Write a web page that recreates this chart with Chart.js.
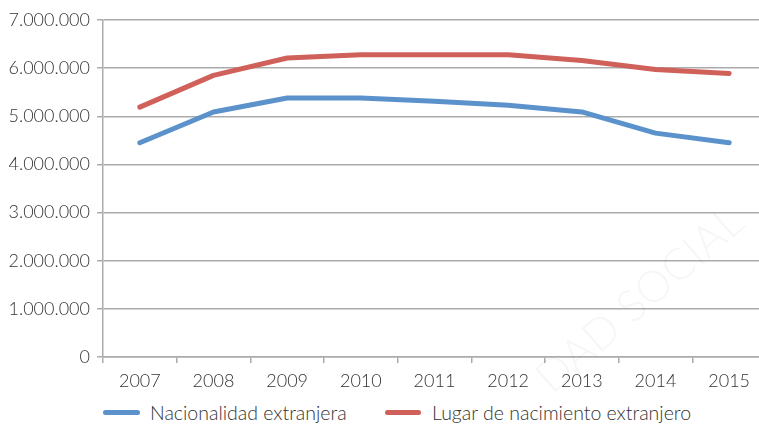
<!DOCTYPE html>
<html>
<head>
<meta charset="utf-8">
<script src="https://cdn.jsdelivr.net/npm/chart.js@4/dist/chart.umd.min.js"></script>
<style>
  html, body { margin: 0; padding: 0; background: #fff; overflow: hidden; width: 759px; height: 427px; }
  #wrap { position: absolute; left: 0; top: 0; width: 772px; height: 400px; }
  .leg { position: absolute; top: 401px; font-family: Lato, "Open Sans", sans-serif; font-weight: 300; font-size: 19.5px; color: #333; white-space: nowrap; }
  .sw { position: absolute; top: 410px; height: 5px; border-radius: 3px; }
</style>
</head>
<body>
<div id="wrap"><canvas id="c" width="772" height="400"></canvas></div>
<div class="sw" style="left:103px;width:37px;background:#5B92CB"></div>
<div class="leg" style="left:150px">Nacionalidad extranjera</div>
<div class="sw" style="left:385px;width:36px;background:#CF605A"></div>
<div class="leg" style="left:432px">Lugar de nacimiento extranjero</div>
<script>
const categories = ['2007','2008','2009','2010','2011','2012','2013','2014','2015'];
const nacionalidadExtranjera = [4450000, 5090000, 5380000, 5380000, 5310000, 5230000, 5090000, 4650000, 4450000];
const lugarNacimientoExtranjero = [5190000, 5850000, 6210000, 6280000, 6280000, 6280000, 6160000, 5970000, 5890000];
const yTickLabels = ['0','1.000.000','2.000.000','3.000.000','4.000.000','5.000.000','6.000.000','7.000.000'];
const seriesNames = ['Nacionalidad extranjera', 'Lugar de nacimiento extranjero'];

const watermark = {
  id: 'watermark',
  beforeDatasetsDraw(chart) {
    const ctx = chart.ctx;
    ctx.save();
    ctx.translate(640, 300);
    ctx.rotate(-41 * Math.PI / 180);
    ctx.font = '300 44px Lato, sans-serif';
    ctx.fillStyle = 'rgba(0,0,0,0.035)';
    ctx.textAlign = 'center';
    ctx.textBaseline = 'middle';
    ctx.fillText('DAD SOCIAL', 0, 0);
    ctx.restore();
  }
};

const gridColor = '#ababab';
const textColor = '#333333';
const font = { family: 'Lato, "Open Sans", sans-serif', size: 18, weight: '300' };

new Chart(document.getElementById('c'), {
  type: 'line',
  data: {
    labels: categories,
    datasets: [
      { label: seriesNames[0], data: nacionalidadExtranjera, borderColor: '#5B92CB', backgroundColor: '#5B92CB', borderWidth: 5, pointRadius: 0, borderCapStyle: 'round', borderJoinStyle: 'round', tension: 0 },
      { label: seriesNames[1], data: lugarNacimientoExtranjero, borderColor: '#CF605A', backgroundColor: '#CF605A', borderWidth: 5, pointRadius: 0, borderCapStyle: 'round', borderJoinStyle: 'round', tension: 0 }
    ]
  },
  options: {
    responsive: false,
    animation: false,
    layout: { padding: { top: 20, right: 6, left: 0, bottom: 0 } },
    plugins: { legend: { display: false }, tooltip: { enabled: false } },
    scales: {
      x: {
        offset: true,
        grid: { display: true, offset: true, drawOnChartArea: false, drawTicks: true, tickLength: 6, color: gridColor, lineWidth: 1.5 },
        border: { color: gridColor, width: 1.5 },
        ticks: { color: textColor, font: font, padding: 7, maxRotation: 0 },
        afterFit(s) { s.height = 43; }
      },
      y: {
        min: 0, max: 7000000,
        grid: { color: gridColor, lineWidth: 1.5, tickLength: 6, drawTicks: true },
        border: { color: gridColor, width: 1.5 },
        ticks: { stepSize: 1000000, color: textColor, font: font, padding: 7,
          callback(v) { return yTickLabels[Math.round(v / 1000000)]; } },
        afterFit(s) { s.width = 103; }
      }
    }
  },
  plugins: [watermark]
});
</script>
</body>
</html>
